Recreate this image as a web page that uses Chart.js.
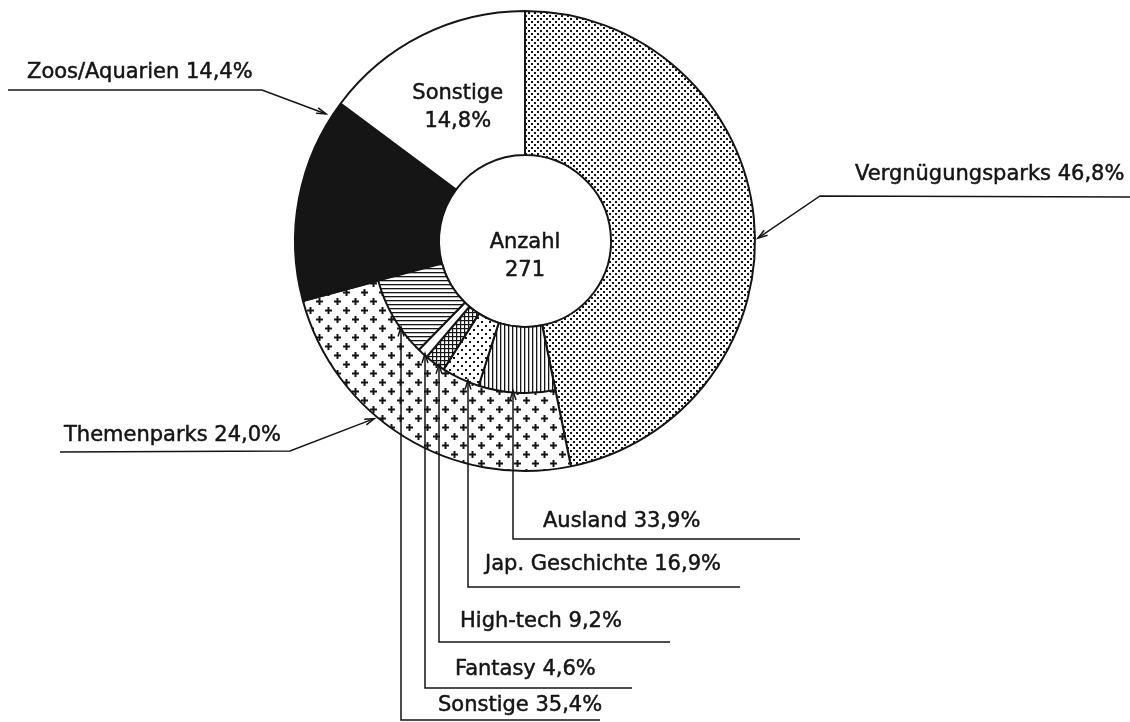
<!DOCTYPE html>
<html>
<head>
<meta charset="utf-8">
<script src="https://cdn.jsdelivr.net/npm/chart.js@4.4.1/dist/chart.umd.min.js"></script>
<style>
    body { margin: 0; background: #fff; }
    #wrap { position: relative; width: 1130px; height: 722px; }
    #wrap canvas { position: absolute; left: 0; top: 0; }
</style>
</head>
<body>
<div id="wrap">
    <canvas id="outerChart" width="1130" height="722"></canvas>
    <canvas id="innerChart" width="1130" height="722"></canvas>
</div>
<script>
// Besucherzahl nach Art der Einrichtung (Anteile in %)
var mainLabels = ['Vergnügungsparks', 'Themenparks', 'Zoos/Aquarien', 'Sonstige'];
var mainValues = [46.8, 24.0, 14.4, 14.8];

// Aufteilung der Themenparks (Anteile in % der Themenparks)
var themeLabels = ['Ausland', 'Jap. Geschichte', 'High-tech', 'Fantasy', 'Sonstige'];
var themeValues = [33.9, 16.9, 9.2, 4.6, 35.4];

var totalLabel = 'Anzahl';
var totalValue = '271';

var INK = '#151515';
var FONT = '21px "DejaVu Sans", sans-serif';

function fmt(v) {
    return v.toFixed(1).replace('.', ',') + '%';
}

function makePattern(size, draw) {
    var c = document.createElement('canvas');
    c.width = size; c.height = size;
    var g = c.getContext('2d');
    g.fillStyle = '#fff';
    g.fillRect(0, 0, size, size);
    g.fillStyle = INK;
    g.strokeStyle = INK;
    draw(g, size);
    return g.createPattern(c, 'repeat');
}

var finePoints = makePattern(6, function (g) {
    g.fillRect(0, 0, 2, 2);
    g.fillRect(3, 3, 2, 2);
});
var crosses = makePattern(18, function (g) {
    g.lineWidth = 2;
    [[4.5, 4.5], [13.5, 13.5]].forEach(function (p) {
        g.beginPath();
        g.moveTo(p[0] - 3.5, p[1]); g.lineTo(p[0] + 3.5, p[1]);
        g.moveTo(p[0], p[1] - 3.5); g.lineTo(p[0], p[1] + 3.5);
        g.stroke();
    });
});
var vLines = makePattern(4, function (g) { g.fillRect(0, 0, 1.3, 4); });
var hLines = makePattern(4, function (g) { g.fillRect(0, 0, 4, 1.3); });
var grid = makePattern(4, function (g) { g.fillRect(0, 0, 1.2, 4); g.fillRect(0, 0, 4, 1.2); });
var sparseDots = makePattern(8, function (g) {
    g.fillRect(1, 1, 2, 2);
    g.fillRect(5, 5, 2, 2);
});

var mainFills = [finePoints, crosses, INK, '#fff'];
var themeFills = [vLines, sparseDots, grid, '#fff', hLines];

var padding = { left: 295, right: 375, top: 11, bottom: 251 };
var OUTER_R = 230, HOLE_R = 86, SUB_R = 152;

var outerChart = new Chart(document.getElementById('outerChart'), {
    type: 'doughnut',
    data: {
        labels: mainLabels,
        datasets: [{
            data: mainValues,
            backgroundColor: mainFills,
            borderColor: INK,
            borderWidth: 2
        }]
    },
    options: {
        responsive: false,
        animation: false,
        events: [],
        radius: OUTER_R,
        cutout: (HOLE_R / OUTER_R * 100) + '%',
        layout: { padding: padding },
        plugins: { legend: { display: false }, tooltip: { enabled: false } }
    }
});

// inner ring: only the Themenparks wedge is split, the rest stays transparent
var innerValues = [mainValues[0]]
    .concat(themeValues.map(function (v) { return v * mainValues[1] / 100; }))
    .concat([mainValues[2], mainValues[3]]);
var innerFills = ['rgba(0,0,0,0)'].concat(themeFills).concat(['rgba(0,0,0,0)', 'rgba(0,0,0,0)']);
var innerBorders = [0].concat(themeValues.map(function () { return 2; })).concat([0, 0]);

function arrowTo(ctx, pts) {
    ctx.beginPath();
    ctx.moveTo(pts[0][0], pts[0][1]);
    for (var i = 1; i < pts.length; i++) ctx.lineTo(pts[i][0], pts[i][1]);
    ctx.stroke();
    var a = pts[pts.length - 2], b = pts[pts.length - 1];
    var ang = Math.atan2(b[1] - a[1], b[0] - a[0]);
    ctx.beginPath();
    ctx.moveTo(b[0] - 10 * Math.cos(ang - 0.3), b[1] - 10 * Math.sin(ang - 0.3));
    ctx.lineTo(b[0], b[1]);
    ctx.lineTo(b[0] - 10 * Math.cos(ang + 0.3), b[1] - 10 * Math.sin(ang + 0.3));
    ctx.stroke();
}

function label(ctx, text, x, y) {
    ctx.fillText(text, x, y);
    ctx.strokeText(text, x, y);
}

var annotations = {
    id: 'annotations',
    afterDraw: function (chart) {
        var ctx = chart.ctx;
        var arcs = outerChart.getDatasetMeta(0).data;
        var cx = arcs[0].x, cy = arcs[0].y, R = arcs[0].outerRadius;
        function onArc(arc, frac, r) {
            var a = arc.startAngle + frac * (arc.endAngle - arc.startAngle);
            return [cx + r * Math.cos(a), cy + r * Math.sin(a)];
        }
        ctx.save();
        ctx.fillStyle = INK;
        ctx.strokeStyle = INK;
        ctx.font = FONT;
        ctx.textBaseline = 'alphabetic';
        ctx.lineWidth = 0.5;

        // centre
        ctx.textAlign = 'center';
        label(ctx, totalLabel, cx, cy + 7);
        label(ctx, totalValue, cx, cy + 35);

        // Sonstige inside its slice
        var s = onArc(arcs[3], 0.5, 150);
        label(ctx, mainLabels[3], s[0], s[1] - 8);
        label(ctx, fmt(mainValues[3]), s[0], s[1] + 20);

        // outer labels
        ctx.textAlign = 'left';
        label(ctx, mainLabels[0] + ' ' + fmt(mainValues[0]), 855, 180);
        label(ctx, mainLabels[2] + ' ' + fmt(mainValues[2]), 27, 78);
        label(ctx, mainLabels[1] + ' ' + fmt(mainValues[1]), 64, 441);

        ctx.lineWidth = 1.5;
        arrowTo(ctx, [[1130, 197], [820, 196], onArc(arcs[0], 0.53, R + 3)]);
        arrowTo(ctx, [[8, 90], [262, 90], onArc(arcs[2], 0.92, R + 6)]);
        arrowTo(ctx, [[60, 452], [290, 451], onArc(arcs[1], 0.6, R + 3)]);

        // Themenparks breakdown, leaders drop straight down from the inner ring
        var subR = chart.getDatasetMeta(0).data[1].outerRadius;
        var leaders = [
            { x: 513, lineY: 539, lineEnd: 800, tx: 543, ty: 527 },
            { x: 468, lineY: 587, lineEnd: 740, tx: 485, ty: 570 },
            { x: 439, lineY: 642, lineEnd: 670, tx: 460, ty: 627 },
            { x: 425, lineY: 688, lineEnd: 632, tx: 455, ty: 675 },
            { x: 401, lineY: 720, lineEnd: 600, tx: 438, ty: 711 }
        ];
        leaders.forEach(function (l, i) {
            var dx = l.x - cx;
            var tipY = cy + Math.sqrt(subR * subR - dx * dx) - 2;
            ctx.lineWidth = 0.5;
            label(ctx, themeLabels[i] + ' ' + fmt(themeValues[i]), l.tx, l.ty);
            ctx.lineWidth = 1.5;
            arrowTo(ctx, [[l.lineEnd, l.lineY], [l.x, l.lineY], [l.x, tipY]]);
        });
        ctx.restore();
    }
};

var innerChart = new Chart(document.getElementById('innerChart'), {
    type: 'doughnut',
    data: {
        labels: ['Vergnügungsparks'].concat(themeLabels).concat(['Zoos/Aquarien', 'Sonstige']),
        datasets: [{
            data: innerValues,
            backgroundColor: innerFills,
            borderColor: INK,
            borderWidth: innerBorders
        }]
    },
    options: {
        responsive: false,
        animation: false,
        events: [],
        radius: SUB_R,
        cutout: (HOLE_R / SUB_R * 100) + '%',
        layout: { padding: padding },
        plugins: { legend: { display: false }, tooltip: { enabled: false } }
    },
    plugins: [annotations]
});
</script>
</body>
</html>
